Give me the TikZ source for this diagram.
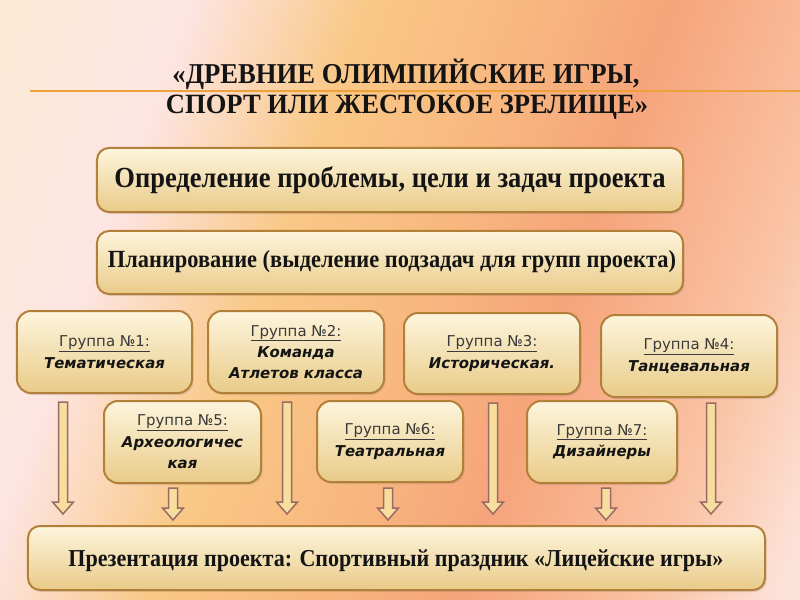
\documentclass[tikz,border=0pt]{standalone}
\usepackage{fontspec}
\setmainfont{Liberation Serif}
\newfontfamily\grpfont{DejaVu Sans}
\usetikzlibrary{calc,shadows}
\definecolor{bgA}{HTML}{FBE2C2}
\definecolor{bgB}{HTML}{FCE9D3}
\definecolor{bgC}{HTML}{FDE5E3}
\definecolor{bgD}{HTML}{F9C886}
\definecolor{bgE}{HTML}{F8B77F}
\definecolor{bgF}{HTML}{F6A47B}
\definecolor{bgG}{HTML}{FAC3A4}
\definecolor{bgH}{HTML}{FCE2D8}
\definecolor{bgI}{HTML}{FDEAE2}
\definecolor{boxtop}{HTML}{FDF5DC}
\definecolor{boxbot}{HTML}{E9CB89}
\definecolor{boxline}{HTML}{B3803A}
\definecolor{arrfill}{HTML}{F7DE9E}
\definecolor{arrline}{HTML}{9A6A64}
\definecolor{titleline}{HTML}{EDA13C}
\definecolor{gtxt}{HTML}{3A3A3A}
\definecolor{mtxt}{HTML}{141414}
\pgfdeclarehorizontalshading{bgshade}{100bp}{color(0bp)=(bgA); color(25bp)=(bgA); color(30bp)=(bgB); color(37.5bp)=(bgC); color(44.5bp)=(bgD); color(51bp)=(bgE); color(56.5bp)=(bgF); color(64bp)=(bgG); color(69bp)=(bgH); color(75bp)=(bgI); color(100bp)=(bgI)}
\newcommand\gtitle[1]{\textcolor{gtxt}{\underline{#1}}}
\newcommand\gname[1]{\textcolor{mtxt}{\textbf{\textit{#1}}}}
\newcommand\fitw[2]{\scalebox{1}[1.1]{\resizebox{#1}{!}{#2}}}
\newcommand\barrow[2]{%
  \path[arrowshape] ($(#1)+(-4.5,0)$) -- ($(#2)+(-4.5,-12)$) -- ($(#2)+(-10.5,-12)$) -- (#2)
    -- ($(#2)+(10.5,-12)$) -- ($(#2)+(4.5,-12)$) -- ($(#1)+(4.5,0)$) -- cycle;}
\tikzset{
  box/.style={draw=boxline, line width=2bp, rounded corners=12bp,
    top color=boxtop, bottom color=boxbot, inner sep=0pt,
    drop shadow={opacity=0.22, shadow xshift=1.5bp, shadow yshift=-2bp}},
  grp/.style={box, rounded corners=14bp, align=center,
    font=\grpfont\fontsize{15}{21.5}\selectfont},
  arrowshape/.style={draw=arrline, fill=arrfill, line width=1.5bp, line join=miter},
  serif/.style={inner sep=0pt, text=mtxt, font=\bfseries, anchor=base}
}
\begin{document}
\begin{tikzpicture}[x=1bp,y=-1bp]
\useasboundingbox (0,0) rectangle (800,600);
% background
\begin{scope}
  \clip (0,0) rectangle (800,600);
  \begin{scope}[transform canvas={rotate around={-20:(400,300)}}]
    \shade[shading=bgshade] (-200,-200) rectangle (1000,800);
  \end{scope}
\end{scope}
% title
\coordinate (tl1) at (30,91);
\coordinate (tl2) at (800,91);
\draw[titleline, line width=2bp] (tl1) -- (tl2);
\node[serif] (t1) at (406,84) {\scalebox{1}[1.08]{\resizebox{467bp}{!}{«ДРЕВНИЕ ОЛИМПИЙСКИЕ ИГРЫ,}}};
\node[serif] (t2) at (407,114) {\scalebox{1}[1.05]{\resizebox{482bp}{!}{СПОРТ ИЛИ ЖЕСТОКОЕ ЗРЕЛИЩЕ»}}};
% main boxes
\node[box, minimum width=586bp, minimum height=64bp] (b1) at (390,180) {};
\node[serif] (b1t) at (390,188) {\fitw{551bp}{Определение проблемы, цели и задач проекта}};
\node[box, minimum width=586bp, minimum height=63bp] (b2) at (390,262.5) {};
\node[serif] (b2t) at (392,267) {\fitw{568bp}{Планирование (выделение подзадач для групп проекта)}};
% groups
\node[grp, minimum width=175bp, minimum height=82bp] (g1) at (104.5,352) {\gtitle{Группа №1:}\\\gname{Тематическая}};
\node[grp, minimum width=176bp, minimum height=82bp] (g2) at (296,352) {\gtitle{Группа №2:}\\\gname{Команда}\\\gname{Атлетов класса}};
\node[grp, minimum width=176bp, minimum height=81bp] (g3) at (492,353.5) {\gtitle{Группа №3:}\\\gname{Историческая.}};
\node[grp, minimum width=176bp, minimum height=82bp] (g4) at (689,356) {\gtitle{Группа №4:}\\\gname{Танцевальная}};
\node[grp, minimum width=157bp, minimum height=82bp] (g5) at (182.5,442) {\gtitle{Группа №5:}\\\gname{Археологичес}\\\gname{кая}};
\node[grp, minimum width=146bp, minimum height=81bp] (g6) at (390,441.5) {\gtitle{Группа №6:}\\\gname{Театральная}};
\node[grp, minimum width=150bp, minimum height=82bp] (g7) at (602,442) {\gtitle{Группа №7:}\\\gname{Дизайнеры}};
% bottom box
\node[box, minimum width=737bp, minimum height=64bp] (bb) at (396.5,558) {};
\node[serif] (bbt) at (396,566) {\fitw{655bp}{Презентация проекта: Спортивный праздник «Лицейские игры»}};
% arrows
\coordinate (a1s) at (63,402);  \coordinate (a1e) at (63,514);
\coordinate (a2s) at (287,402); \coordinate (a2e) at (287,514);
\coordinate (a3s) at (493,403); \coordinate (a3e) at (493,514);
\coordinate (a4s) at (711,403); \coordinate (a4e) at (711,514);
\coordinate (a5s) at (173,488); \coordinate (a5e) at (173,520);
\coordinate (a6s) at (388,488); \coordinate (a6e) at (388,520);
\coordinate (a7s) at (606,488); \coordinate (a7e) at (606,520);
\barrow{a1s}{a1e}\barrow{a2s}{a2e}\barrow{a3s}{a3e}\barrow{a4s}{a4e}
\barrow{a5s}{a5e}\barrow{a6s}{a6e}\barrow{a7s}{a7e}
\end{tikzpicture}
\end{document}
